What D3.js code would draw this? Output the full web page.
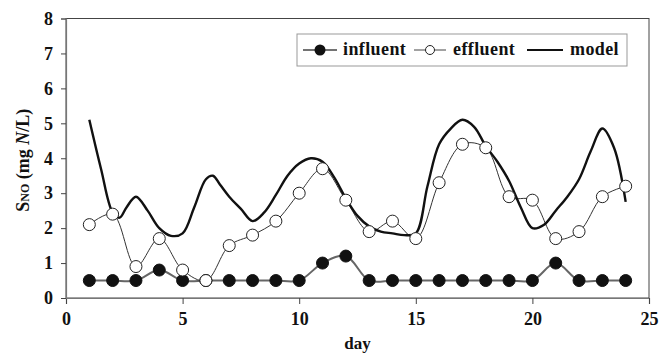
<!DOCTYPE html>
<html><head><meta charset="utf-8">
<script src="https://cdn.jsdelivr.net/npm/d3@7"></script>
<style>body{margin:0;background:#fff}svg{display:block}text{font-family:"Liberation Serif","Times New Roman",serif;font-weight:bold}</style>
</head><body><svg id="c" width="670" height="354"></svg>
<script>
const days = [1,2,3,4,5,6,7,8,9,10,11,12,13,14,15,16,17,18,19,20,21,22,23,24];
const influent = [0.5,0.5,0.5,0.8,0.5,0.5,0.5,0.5,0.5,0.5,1.0,1.2,0.5,0.5,0.5,0.5,0.5,0.5,0.5,0.5,1.0,0.5,0.5,0.5];
const effluent = [2.1,2.4,0.9,1.7,0.8,0.5,1.5,1.8,2.2,3.0,3.7,2.8,1.9,2.2,1.7,3.3,4.4,4.3,2.9,2.8,1.7,1.9,2.9,3.2];
const modelDays = [1,1.5,2,2.3,2.6,3,3.5,4,4.5,5,5.5,6,6.3,6.6,7,7.5,8,8.5,9,9.5,10,10.5,11,11.5,12,12.5,13,13.5,14,14.5,15,15.5,16,16.5,17,17.5,18,18.5,19,19.5,20,20.5,21,21.5,22,22.5,23,23.5,24];
const modelVals = [5.1,3.7,2.45,2.3,2.6,2.9,2.5,2.0,1.78,1.85,2.6,3.4,3.5,3.25,2.9,2.55,2.2,2.45,2.95,3.5,3.85,4.0,3.9,3.45,2.85,2.35,2.05,1.9,1.85,1.8,1.85,3.2,4.4,4.85,5.1,4.9,4.35,3.9,3.35,2.6,2.0,2.1,2.5,2.9,3.4,4.2,4.85,4.3,2.75];
const xTicks = [0,5,10,15,20,25];
const yTicks = [0,1,2,3,4,5,6,7,8];

const svg = d3.select("#c");
const L=66, R=649, T=18.5, B=298;
const x = d3.scaleLinear().domain([0,25]).range([L,R]);
const y = d3.scaleLinear().domain([0,8]).range([B,T]);

svg.append("rect").attr("x",L).attr("y",T).attr("width",R-L).attr("height",B-T)
  .attr("fill","none").attr("stroke","#444").attr("stroke-width",1);

const xa = svg.append("g").attr("transform",`translate(0,${B})`)
  .call(d3.axisBottom(x).tickValues(xTicks).tickSize(6).tickPadding(8));
const ya = svg.append("g").attr("transform",`translate(${L},0)`)
  .call(d3.axisLeft(y).tickValues(yTicks).tickSize(5).tickPadding(8));
[xa,ya].forEach(a=>{
  a.select(".domain").attr("stroke","#777").attr("stroke-width",1.2);
  a.selectAll(".tick line").attr("stroke","#444");
  a.selectAll(".tick text").attr("font-size",18).attr("fill","#111")
    .attr("font-family","Liberation Serif").attr("font-weight","bold");
});

svg.append("text").attr("x",(L+R)/2).attr("y",349).attr("text-anchor","middle")
  .attr("font-size",17).attr("fill","#111").text("day");

const yl = svg.append("text").attr("transform",`translate(29,${(T+B)/2+2}) rotate(-90)`)
  .attr("text-anchor","middle").attr("font-size",18).attr("fill","#111");
yl.append("tspan").text("S");
yl.append("tspan").attr("font-size",12).text("NO");
yl.append("tspan").text(" (mg ");
yl.append("tspan").attr("font-style","italic").text("N");
yl.append("tspan").text("/L)");

const curve = d3.curveCatmullRom.alpha(0.5);
const line = d3.line().x(d=>x(d[0])).y(d=>y(d[1])).curve(curve);

svg.append("path").datum(days.map((d,i)=>[d,influent[i]])).attr("d",line)
  .attr("fill","none").attr("stroke","#666").attr("stroke-width",2);
svg.append("path").datum(days.map((d,i)=>[d,effluent[i]])).attr("d",line)
  .attr("fill","none").attr("stroke","#333").attr("stroke-width",1);
svg.append("path").datum(modelDays.map((d,i)=>[d,modelVals[i]])).attr("d",line)
  .attr("fill","none").attr("stroke","#111").attr("stroke-width",2.4);

svg.selectAll("circle.inf").data(days).join("circle").attr("class","inf")
  .attr("cx",d=>x(d)).attr("cy",(d,i)=>y(influent[i])).attr("r",6)
  .attr("fill","#111").attr("stroke","#111");
svg.selectAll("circle.eff").data(days).join("circle").attr("class","eff")
  .attr("cx",d=>x(d)).attr("cy",(d,i)=>y(effluent[i])).attr("r",6)
  .attr("fill","#fff").attr("stroke","#222").attr("stroke-width",1);

const lg = svg.append("g");
lg.append("rect").attr("x",297).attr("y",34).attr("width",330).attr("height",32)
  .attr("fill","#fff").attr("stroke","#999").attr("stroke-width",1);
const ly = 50;
lg.append("line").attr("x1",303).attr("x2",337).attr("y1",ly).attr("y2",ly).attr("stroke","#444").attr("stroke-width",1.5);
lg.append("circle").attr("cx",320).attr("cy",ly).attr("r",5.5).attr("fill","#111");
lg.append("text").attr("x",343).attr("y",ly+5).attr("font-size",18).attr("letter-spacing",0.4).attr("fill","#111").text("influent");
lg.append("line").attr("x1",414).attr("x2",446).attr("y1",ly).attr("y2",ly).attr("stroke","#444").attr("stroke-width",1);
lg.append("circle").attr("cx",430).attr("cy",ly).attr("r",4.5).attr("fill","#fff").attr("stroke","#222");
lg.append("text").attr("x",453).attr("y",ly+5).attr("font-size",18).attr("letter-spacing",0.4).attr("fill","#111").text("effluent");
lg.append("line").attr("x1",527).attr("x2",563).attr("y1",ly).attr("y2",ly).attr("stroke","#111").attr("stroke-width",2);
lg.append("text").attr("x",570).attr("y",ly+5).attr("font-size",18).attr("letter-spacing",0.4).attr("fill","#111").text("model");
</script></body></html>
